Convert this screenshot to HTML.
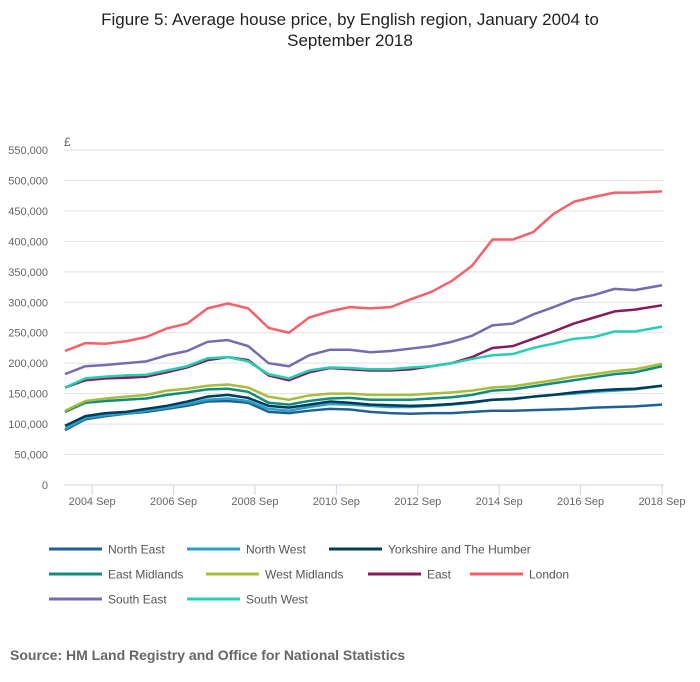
<!DOCTYPE html>
<html><head><meta charset="utf-8">
<style>
body{margin:0;background:#fff;font-family:"Liberation Sans",sans-serif;}
#wrap{position:relative;width:700px;height:682px;overflow:hidden;}
svg text{font-family:"Liberation Sans",sans-serif;}
</style></head>
<body>
<div id="wrap">
<svg id="chart" width="700" height="682">
<text x="350" y="25" text-anchor="middle" font-size="17" fill="#222">Figure 5: Average house price, by English region, January 2004 to</text>
<text x="350" y="46" text-anchor="middle" font-size="17" fill="#222">September 2018</text>
<text x="64" y="146" font-size="12" fill="#666">£</text>
<text x="10" y="660" font-size="14" font-weight="bold" fill="#666">Source: HM Land Registry and Office for National Statistics</text>
</svg>
</div>
<script>
const months=[0,6,12,18,24,30,36,42,48,54,60,66,72,78,84,90,96,102,108,114,120,126,132,138,144,150,156,162,168,176];
const yTicks=[0,50000,100000,150000,200000,250000,300000,350000,400000,450000,500000,550000];
const xTickMonths=[8,32,56,80,104,128,152,176];
const xTickLabels=["2004 Sep","2006 Sep","2008 Sep","2010 Sep","2012 Sep","2014 Sep","2016 Sep","2018 Sep"];
const regionNames=["North East","North West","Yorkshire and The Humber","East Midlands","West Midlands","East","London","South East","South West"];
const northEast=[90,108,113,117,120,125,130,137,138,135,120,118,122,125,124,120,118,117,118,118,120,122,122,123,124,125,127,128,129,132];
const northWest=[92,110,115,117,122,127,133,140,142,138,125,122,128,133,132,130,128,128,130,132,135,140,142,145,148,150,153,155,157,163];
const yorkshire=[97,113,118,120,125,130,137,145,148,143,130,127,132,137,135,132,131,130,131,133,136,140,141,145,148,152,155,157,158,163];
const eastMidlands=[120,135,138,140,142,148,152,157,158,153,135,132,138,142,143,140,140,140,142,144,148,155,157,162,167,172,177,182,185,195];
const westMidlands=[122,138,142,145,148,155,158,163,165,160,145,140,147,150,150,148,148,148,150,152,155,160,162,167,172,178,182,187,190,199];
const east=[160,172,175,176,178,185,193,205,210,205,180,172,185,192,190,188,188,190,195,200,210,225,228,240,252,265,275,285,288,295];
const london=[220,233,232,236,243,257,265,290,298,290,258,250,275,285,292,290,292,305,317,335,360,403,403,415,445,465,473,480,480,482];
const southEast=[182,195,197,200,203,213,220,235,238,228,200,195,213,222,222,218,220,224,228,235,245,262,265,280,292,305,312,322,320,328];
const southWest=[160,175,178,180,181,188,195,208,210,203,182,175,188,193,192,190,190,193,195,200,207,213,215,225,232,240,243,252,252,260];
const series=[northEast,northWest,yorkshire,eastMidlands,westMidlands,east,london,southEast,southWest];
const colors=["#206095","#27a0cc","#003c57","#118c7b","#a8bd3a","#871a5b","#f66068","#746cb1","#22d0b6"];
const slugs=["north-east","north-west","yorkshire","east-midlands","west-midlands","east","london","south-east","south-west"];
const NS="http://www.w3.org/2000/svg";
const svg=document.getElementById('chart');
const x=m=>65+m*(597/176);
const y=v=>485-v/550000*(485-150);
function mk(t,a){const e=document.createElementNS(NS,t);for(const k in a)e.setAttribute(k,a[k]);svg.appendChild(e);return e;}
yTicks.forEach(v=>{
  if(v>0){const g=mk('line',{x1:64,x2:664,y1:y(v),y2:y(v),stroke:'#e2e2e2','stroke-width':1});
  
  }
  const t=mk('text',{x:48,y:y(v)+4,'text-anchor':'end','font-size':11,fill:'#666'});
  t.textContent=v.toLocaleString('en-GB');
  
  
});
const ax=mk('line',{x1:64,x2:664,y1:485,y2:485,stroke:'#ccd3e3','stroke-width':1});


xTickMonths.forEach((m,i)=>{
  const tk=mk('line',{x1:x(m),x2:x(m),y1:485,y2:495,stroke:'#ccd3e3','stroke-width':1});
  
  
  const t=mk('text',{x:x(m),y:505,'text-anchor':'middle','font-size':11,fill:'#666'});
  t.textContent=xTickLabels[i];
  
  
});
series.forEach((s,i)=>{
  const p=mk('polyline',{points:s.map((v,j)=>x(months[j])+','+y(v*1000)).join(' '),fill:'none',stroke:colors[i],'stroke-width':2.5,'stroke-linejoin':'round'});
  
  
});
const legPos=[[49,549],[187,549],[329,549],[49,574],[206,574],[368,574],[470,574],[49,599],[187,599]];
regionNames.forEach((n,i)=>{
  const [lx,ly]=legPos[i];
  const l=mk('line',{x1:lx,x2:lx+53,y1:ly,y2:ly,stroke:colors[i],'stroke-width':3});
  
  
  const t=mk('text',{x:lx+59,y:ly+4.5,'font-size':12,fill:'#555'});
  t.textContent=n;
  
  
});
</script>
</body></html>
